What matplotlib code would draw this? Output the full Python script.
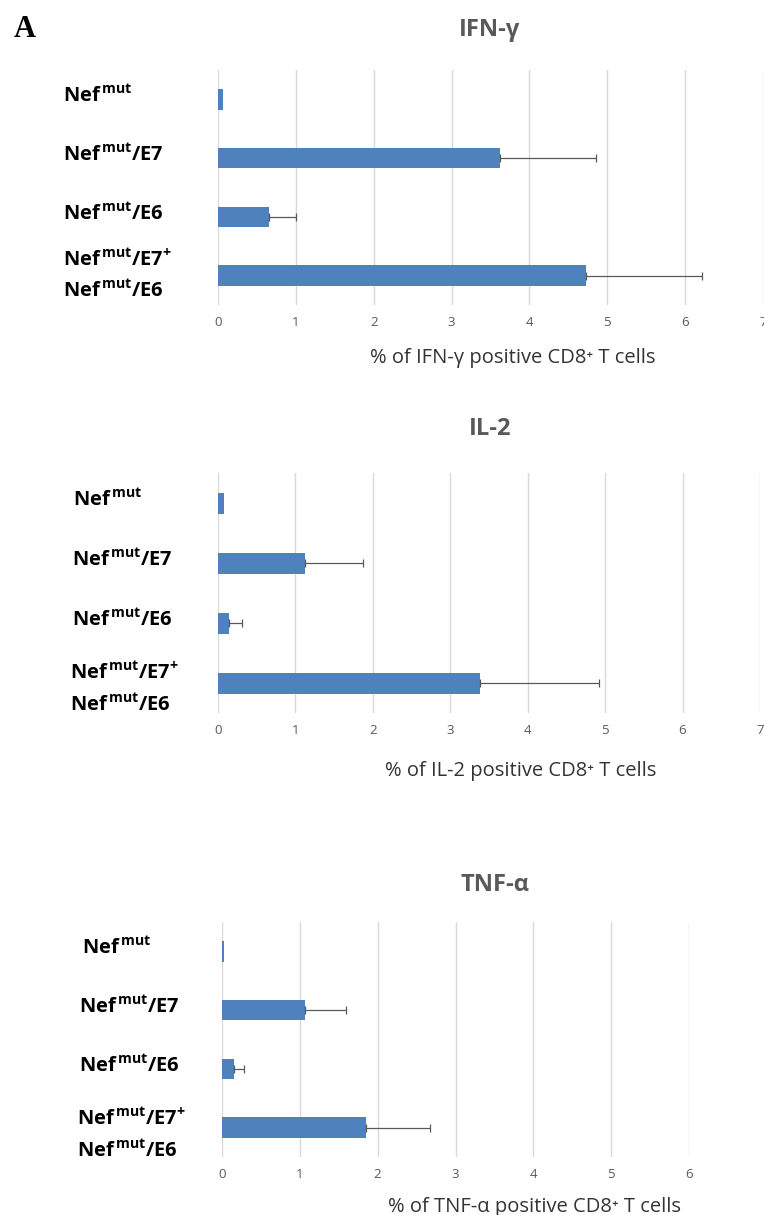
import numpy as np
import matplotlib
matplotlib.use("Agg")
import matplotlib.pyplot as plt
from matplotlib import transforms

plt.rcParams['mathtext.fontset'] = 'custom'
plt.rcParams['mathtext.rm'] = 'Open Sans'
plt.rcParams['mathtext.bf'] = 'Open Sans:bold'
plt.rcParams['font.family'] = ['Open Sans', 'DejaVu Sans']

# ---- data ----
categories = ["Nef-mut", "Nef-mut/E7", "Nef-mut/E6", "Nef-mut/E7+ Nef-mut/E6"]
cat_lines = [
    [r'$\mathbf{Nef}^{\,\mathbf{mut}}$'],
    [r'$\mathbf{Nef}^{\,\mathbf{mut}}\mathbf{/E7}$'],
    [r'$\mathbf{Nef}^{\,\mathbf{mut}}\mathbf{/E6}$'],
    [r'$\mathbf{Nef}^{\,\mathbf{mut}}\mathbf{/E7}^{\mathbf{+}}$', r'$\mathbf{Nef}^{\,\mathbf{mut}}\mathbf{/E6}$'],
]
ifn_means = [0.07, 3.62, 0.66, 4.73]
ifn_err = [0.0, 1.23, 0.34, 1.49]
il2_means = [0.086, 1.13, 0.15, 3.39]
il2_err = [0.0, 0.74, 0.17, 1.53]
tnf_means = [0.035, 1.07, 0.16, 1.85]
tnf_err = [0.0, 0.52, 0.12, 0.82]

titles = ["IFN-γ", "IL-2", "TNF-α"]
xlabels = ["% of IFN-γ positive CD8⁺ T cells",
           "% of IL-2 positive CD8⁺ T cells",
           "% of TNF-α positive CD8⁺ T cells"]
xmax = [7, 7, 6]

W, H = 764, 1215
fig = plt.figure(figsize=(W / 100, H / 100), dpi=100)

BAR = '#4f81bd'
GRID = '#d9d9d9'
ERR = '#595959'

# panel geometry in pixels: left, right, top, bottom
panels = [
    dict(px=(218, 763, 70, 305), means=ifn_means, err=ifn_err, title_x=0.499, title_dy=40,
         xl=(0.541, -0.185), lab_x=[63, 63, 63, 63], comb=(-0.27, 0.27)),
    dict(px=(217.7, 760, 473, 713), means=il2_means, err=il2_err, title_x=0.502, title_dy=44,
         xl=(0.558, -0.198), lab_x=[73, 72, 72, 69.5], comb=(-0.17, 0.37)),
    dict(px=(221.7, 689.3, 922, 1157), means=tnf_means, err=tnf_err, title_x=0.584, title_dy=37,
         xl=(0.668, -0.17), lab_x=[82, 79, 79, 77], comb=(-0.15, 0.41)),
]

for i, p in enumerate(panels):
    l, r, t, b = p['px']
    ax = fig.add_axes([l / W, 1 - b / H, (r - l) / W, (b - t) / H])
    y = np.arange(len(categories))
    means = np.array(p['means'])
    err = np.array(p['err'])
    ax.barh(y, means, height=0.35, color=BAR, zorder=2)
    m = err > 0
    ax.errorbar(means[m], y[m], xerr=[np.zeros(m.sum()), err[m]], fmt='none',
                ecolor=ERR, elinewidth=0.9, capsize=3, capthick=0.9, zorder=3)
    ax.set_xlim(0, xmax[i])
    ax.set_ylim(3.5, -0.5)
    ax.set_xticks(np.arange(0, xmax[i] + 1))
    ax.xaxis.grid(True, color=GRID, linewidth=1.0, zorder=0)
    ax.set_axisbelow(True)
    for s in ax.spines.values():
        s.set_visible(False)
    ax.set_yticks([])
    ax.tick_params(axis='x', length=0, pad=8, labelsize=9.5, labelcolor='#595959')
    ax.set_xlabel(xlabels[i], fontsize=14.5, color='#333333')
    ax.xaxis.set_label_coords(*p['xl'])
    ax.text(p['title_x'], 1 + p['title_dy'] / (b - t), titles[i], transform=ax.transAxes,
            ha='center', va='center', fontsize=17, fontweight='bold', color='#595959')
    tr = transforms.blended_transform_factory(fig.transFigure, ax.transData)
    for j, lines in enumerate(cat_lines):
        if len(lines) == 1:
            ax.text(p['lab_x'][j] / W, y[j] - 0.05, lines[0], transform=tr, ha='left',
                    va='center', fontsize=14.5, color='black')
        else:
            for k, line in enumerate(lines):
                ax.text(p['lab_x'][j] / W, y[j] + p['comb'][k], line, transform=tr, ha='left',
                        va='center', fontsize=14.5, color='black')

fig.text(14 / W, 1 - 37 / H, "A", family='Liberation Serif', fontweight='bold', fontsize=22,
         ha='left', va='baseline')

fig.savefig("out.png", dpi=100)
